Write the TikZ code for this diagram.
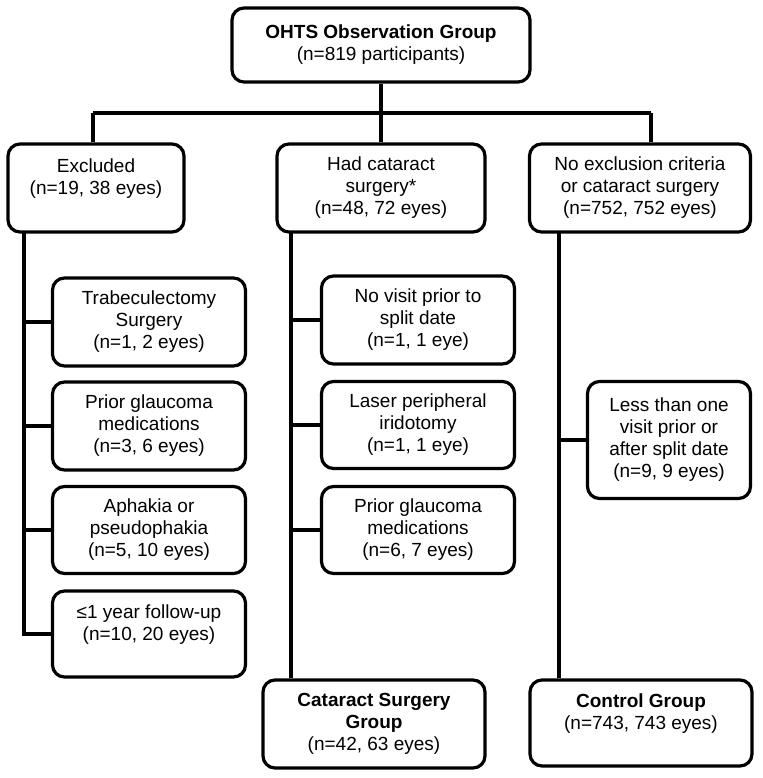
\documentclass[tikz,border=0pt]{standalone}
\usepackage{fontspec}
\setmainfont{Liberation Sans}
\usetikzlibrary{backgrounds}
\pgfdeclarelayer{edgelayer}
\pgfdeclarelayer{nodelayer}
\pgfsetlayers{edgelayer,nodelayer,main}
\tikzset{font=\fontsize{19}{22}\selectfont}
\tikzstyle{none}=[inner sep=0pt]
\tikzstyle{box}=[draw,fill=white,line width=3.2pt,rounded corners=12pt,align=center,inner sep=0pt]
\tikzstyle{link}=[line width=3.2pt]

\begin{document}
\begin{tikzpicture}[x=1pt,y=1pt]
	\useasboundingbox (0,0) rectangle (762,-778);
	\begin{pgfonlayer}{nodelayer}
		\node [style=box, minimum width=298pt, minimum height=74pt] (top) at (381, -45) {\textbf{OHTS Observation Group}\\(n=819 participants)};
		\node [style=box, minimum width=176pt, minimum height=88pt] (excl) at (96, -188) {Excluded\\(n=19, 38 eyes)\\~};
		\node [style=box, minimum width=208pt, minimum height=88pt] (cat) at (381, -188) {Had cataract\\surgery*\\(n=48, 72 eyes)};
		\node [style=box, minimum width=221pt, minimum height=88pt] (noex) at (640, -188) {No exclusion criteria\\or cataract surgery\\(n=752, 752 eyes)};
		% excluded
		\node [style=box, minimum width=193pt, minimum height=88pt] (trab) at (149, -322) {Trabeculectomy\\Surgery\\(n=1, 2 eyes)};
		\node [style=box, minimum width=193pt, minimum height=88pt] (pg1) at (149, -426) {Prior glaucoma\\medications\\(n=3, 6 eyes)};
		\node [style=box, minimum width=193pt, minimum height=87pt] (aph) at (149, -530) {Aphakia or\\pseudophakia\\(n=5, 10 eyes)};
		\node [style=box, minimum width=193pt, minimum height=86pt] (fol) at (149, -634) {≤1 year follow-up\\(n=10, 20 eyes)\\~};
		% cataract
		\node [style=box, minimum width=193pt, minimum height=88pt] (novis) at (418, -320) {No visit prior to\\split date\\(n=1, 1 eye)};
		\node [style=box, minimum width=193pt, minimum height=87pt] (lpi) at (418, -425) {Laser peripheral\\iridotomy\\(n=1, 1 eye)};
		\node [style=box, minimum width=193pt, minimum height=87pt] (pg2) at (418, -530) {Prior glaucoma\\medications\\(n=6, 7 eyes)};
		\node [style=box, minimum width=222pt, minimum height=88pt] (csg) at (374, -724) {\textbf{Cataract Surgery}\\\textbf{Group}\\(n=42, 63 eyes)};
		% control
		\node [style=box, minimum width=163pt, minimum height=117pt] (less) at (669, -440) {Less than one\\visit prior or\\after split date\\(n=9, 9 eyes)};
		\node [style=box, minimum width=222pt, minimum height=86pt] (ctl) at (641, -723) {\textbf{Control Group}\\(n=743, 743 eyes)\\~};
		% joints
		\node [style=none] (jl) at (93, -113) {};
		\node [style=none] (jr) at (651, -113) {};
		\node [style=none] (ls) at (24, -233) {};
		\node [style=none] (ms) at (291, -233) {};
		\node [style=none] (rs) at (559, -233) {};
	\end{pgfonlayer}
	\begin{pgfonlayer}{edgelayer}
		\draw [style=link] (top.south) to (cat.north);
		\draw [style=link] (jl.center) to (jr.center);
		\draw [style=link] (jl.center) to (jl.center |- excl.north);
		\draw [style=link] (jr.center) to (jr.center |- noex.north);
		\draw [style=link] (ls.center) |- (fol.west);
		\foreach \b in {trab,pg1,aph}
			\draw [style=link] (\b.west) to (\b.west -| ls.center);
		\draw [style=link] (ms.center) to (ms.center |- csg.north);
		\foreach \b in {novis,lpi,pg2}
			\draw [style=link] (\b.west) to (\b.west -| ms.center);
		\draw [style=link] (rs.center) to (rs.center |- ctl.north);
		\draw [style=link] (less.west) to (less.west -| rs.center);
	\end{pgfonlayer}
\end{tikzpicture}
\end{document}
